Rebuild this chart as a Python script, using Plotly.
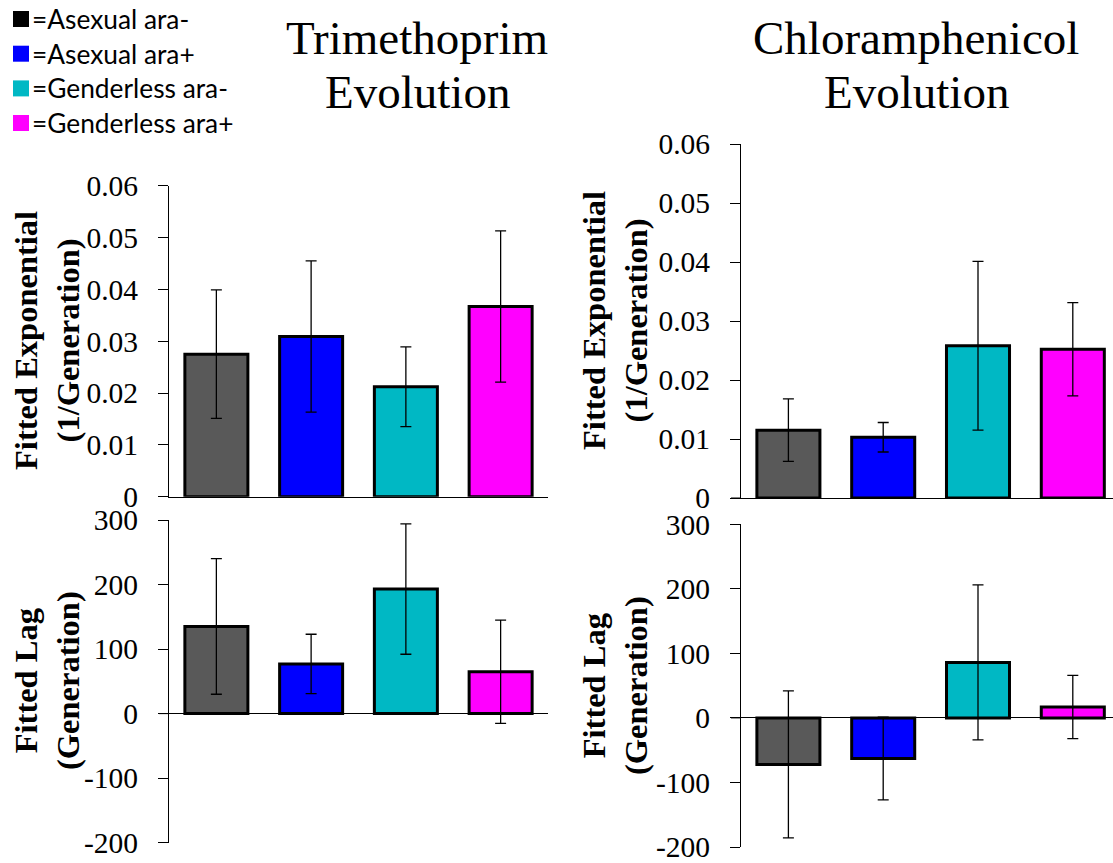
import plotly.graph_objects as go

# ---------------- data ----------------
groups = ["Asexual ara-", "Asexual ara+", "Genderless ara-", "Genderless ara+"]
legend_labels = ["=Asexual ara-", "=Asexual ara+", "=Genderless ara-", "=Genderless ara+"]
bar_colors = ["#595959", "#0000FF", "#00B8C4", "#FF00FF"]
legend_colors = ["#000000", "#0000FF", "#00B8C4", "#FF00FF"]

tmp_exp = [0.0275, 0.0309, 0.0212, 0.0367]
tmp_exp_err = [0.0124, 0.0146, 0.0077, 0.0146]
tmp_lag = [135, 77, 193, 65]
tmp_lag_err = [105, 46, 101, 80]

chl_exp = [0.0115, 0.0103, 0.0258, 0.0252]
chl_exp_err = [0.0053, 0.0025, 0.0143, 0.0079]
chl_lag = [-72, -63, 86, 17]
chl_lag_err = [114, 64, 120, 49]

exp_ticks = [0, 0.01, 0.02, 0.03, 0.04, 0.05, 0.06]
exp_ticktext = ["0", "0.01", "0.02", "0.03", "0.04", "0.05", "0.06"]
lag_ticks = [-200, -100, 0, 100, 200, 300]
lag_ticktext = ["-200", "-100", "0", "100", "200", "300"]

titles = [["Trimethoprim", "Evolution"], ["Chloramphenicol", "Evolution"]]
exp_title = "Fitted Exponential<br>(1/Generation)"
lag_title = "Fitted Lag<br>(Generation)"

# ---------------- layout helpers ----------------
W, H = 1113, 863
def px(x):
    return x / W
def py(y):
    return 1 - y / H

SERIF = "Liberation Serif"
SANS = "Lato"

fig = go.Figure()

panels = [
    ("x", "y", tmp_exp, tmp_exp_err, exp_ticks, exp_ticktext, [0, 0.06], (169, 548), (185.7, 496.7), [-0.5, 3.5], True),
    ("x2", "y2", tmp_lag, tmp_lag_err, lag_ticks, lag_ticktext, [-200, 300], (169, 548), (520, 842.7), [-0.5, 3.5], False),
    ("x3", "y3", chl_exp, chl_exp_err, exp_ticks, exp_ticktext, [0, 0.06], (741, 1113), (144, 498), [-0.5, 3.424], True),
    ("x4", "y4", chl_lag, chl_lag_err, lag_ticks, lag_ticktext, [-200, 300], (741, 1113), (524.3, 847), [-0.5, 3.424], False),
]

layout_axes = {}
shapes = []
for i, (xa, ya, vals, errs, tv, tt, yr, xd, yd, xr, is_top) in enumerate(panels):
    fig.add_trace(go.Bar(
        x=list(range(len(groups))), y=vals,
        xaxis=xa, yaxis=ya,
        marker=dict(color=bar_colors, line=dict(color="black", width=3)),
        error_y=dict(type="data", array=errs, visible=True, color="black", thickness=1.3, width=5.5),
        showlegend=False, hovertext=groups,
    ))
    xkey = "xaxis" if xa == "x" else "xaxis" + xa[1:]
    ykey = "yaxis" if ya == "y" else "yaxis" + ya[1:]
    layout_axes[xkey] = dict(
        domain=[px(xd[0]), px(xd[1])], range=xr, anchor=ya,
        showticklabels=False, ticks="", showgrid=False, zeroline=False,
        showline=is_top, linecolor="black", linewidth=1,
    )
    layout_axes[ykey] = dict(
        domain=[py(yd[1]), py(yd[0])], range=yr, anchor=xa,
        tickvals=tv, ticktext=tt, ticks="outside", ticklen=10, tickwidth=1, tickcolor="black",
        showline=True, linecolor="black", linewidth=1, showgrid=False,
        zeroline=not is_top, zerolinecolor="black", zerolinewidth=1,
        tickfont=dict(family=SERIF, size=29.5, color="black"),
        ticklabelstandoff=14, automargin=False, ticklabeloverflow="allow",
    )
    # category axis line continues left across the tick length, as in the original
    shapes.append(dict(type="line", xref="paper", yref=ya,
                       x0=px(xd[0] - 10), x1=px(xd[0]), y0=0, y1=0,
                       line=dict(color="black", width=1)))

annotations = []
for (l1, l2), cx in zip(titles, [417, 916]):
    annotations.append(dict(text=l1, x=px(cx), y=py(38), xref="paper", yref="paper",
                            xanchor="center", yanchor="middle", showarrow=False,
                            font=dict(family=SERIF, size=47, color="black")))
    annotations.append(dict(text=l2, x=px(cx), y=py(92), xref="paper", yref="paper",
                            xanchor="center", yanchor="middle", showarrow=False,
                            font=dict(family=SERIF, size=47, color="black")))

for text, cx, cy in [(exp_title, 47, 341), (lag_title, 47, 681), (exp_title, 615, 321), (lag_title, 615, 686)]:
    annotations.append(dict(text=text, x=px(cx), y=py(cy), xref="paper", yref="paper",
                            xanchor="center", yanchor="middle", showarrow=False, textangle=-90,
                            font=dict(family=SERIF, size=32.5, color="black", weight="bold")))

row_y = [19, 53.7, 88.4, 123]
for lab, col, ry in zip(legend_labels, legend_colors, row_y):
    shapes.append(dict(type="rect", xref="paper", yref="paper",
                       x0=px(13), x1=px(29), y0=py(ry + 8), y1=py(ry - 8),
                       fillcolor=col, line=dict(width=0)))
    annotations.append(dict(text=lab, x=px(30), y=py(ry), xref="paper", yref="paper",
                            xanchor="left", yanchor="middle", showarrow=False,
                            font=dict(family=SANS, size=26.3, color="black")))

fig.update_layout(
    width=W, height=H,
    margin=dict(l=0, r=0, t=0, b=0),
    paper_bgcolor="white", plot_bgcolor="white",
    font=dict(family=SERIF, color="black"),
    bargap=0.335,
    annotations=annotations, shapes=shapes,
    showlegend=False,
    **layout_axes,
)

fig.write_html("out.html",
               config={"displayModeBar": False},
               post_script="document.body.style.margin='0';document.body.style.overflow='hidden';")
